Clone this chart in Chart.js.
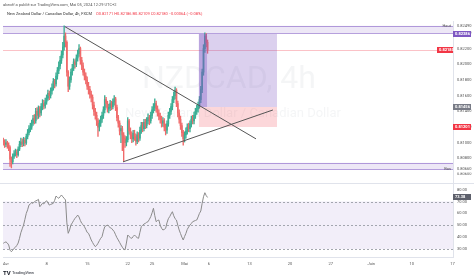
<!DOCTYPE html>
<html>
<head>
<meta charset="utf-8">
<script src="https://cdn.jsdelivr.net/npm/chart.js@4.4.0/dist/chart.umd.min.js"></script>
<style>
    html, body { margin: 0; padding: 0; background: #fff; }
    #wrap { position: relative; width: 474px; height: 280px; overflow: hidden; background: #fff; }
    canvas { position: absolute; left: 0; }
    #price { top: 0; }
    #rsi { top: 183px; }
</style>
</head>
<body>
<div id="wrap">
    <canvas id="price" width="474" height="183"></canvas>
    <canvas id="rsi" width="474" height="97"></canvas>
</div>
<script>
// ============================================================
// NZDCAD 4h - bougies + RSI (recréation TradingView)
// ============================================================
const FONT = "Roboto, 'DejaVu Sans', sans-serif";

// --- données (barre 0 = 1er avril 00:00, 6 barres/jour) ---
const firstBar = -2;
const firstOpen = 0.8103;
const closes = [
    0.8101, 0.8098, 0.8100, 0.8097, 0.8094, 0.8079, 0.8076, 0.8083, 0.8086, 0.8088,
    0.8085, 0.8092, 0.8098, 0.8101, 0.8099, 0.8103, 0.8100, 0.8108, 0.8113, 0.8118,
    0.8120, 0.8125, 0.8131, 0.8128, 0.8140, 0.8135, 0.8143, 0.8138, 0.8146, 0.8150,
    0.8147, 0.8152, 0.8157, 0.8163, 0.8160, 0.8166, 0.8170, 0.8178, 0.8175, 0.8185,
    0.8192, 0.8198, 0.8205, 0.8212, 0.8222, 0.8236, 0.8228, 0.8190, 0.8172, 0.8180,
    0.8190, 0.8195, 0.8203, 0.8200, 0.8208, 0.8214, 0.8220, 0.8205, 0.8198, 0.8190,
    0.8185, 0.8180, 0.8172, 0.8168, 0.8162, 0.8158, 0.8148, 0.8140, 0.8135, 0.8128,
    0.8120, 0.8125, 0.8130, 0.8135, 0.8142, 0.8155, 0.8150, 0.8143, 0.8145, 0.8150,
    0.8146, 0.8152, 0.8156, 0.8145, 0.8132, 0.8125, 0.8115, 0.8118, 0.8110, 0.8106,
    0.8100, 0.8104, 0.8128, 0.8115, 0.8110, 0.8105, 0.8112, 0.8108, 0.8102, 0.8110,
    0.8106, 0.8116, 0.8122, 0.8118, 0.8126, 0.8122, 0.8128, 0.8132, 0.8128, 0.8135,
    0.8142, 0.8145, 0.8150, 0.8143, 0.8138, 0.8134, 0.8130, 0.8125, 0.8128, 0.8120,
    0.8116, 0.8124, 0.8135, 0.8140, 0.8146, 0.8155, 0.8160, 0.8167, 0.8150, 0.8138,
    0.8130, 0.8122, 0.8113, 0.8105, 0.8110, 0.8115, 0.8120, 0.8118, 0.8124, 0.8130,
    0.8128, 0.8135, 0.8140, 0.8143, 0.8148, 0.8155, 0.8168, 0.8190, 0.8220, 0.8236,
    0.8228, 0.8218
];
const highs = [
    0.8106, 0.8104, 0.8104, 0.8102, 0.8100, 0.8096, 0.8082, 0.8086, 0.8090, 0.8092,
    0.8091, 0.8095, 0.8102, 0.8106, 0.8105, 0.8107, 0.8106, 0.8111, 0.8117, 0.8122,
    0.8125, 0.8129, 0.8135, 0.8136, 0.8144, 0.8145, 0.8147, 0.8146, 0.8150, 0.8155,
    0.8154, 0.8157, 0.8161, 0.8167, 0.8166, 0.8170, 0.8175, 0.8182, 0.8181, 0.8189,
    0.8196, 0.8203, 0.8210, 0.8217, 0.8228, 0.8249, 0.8240, 0.8230, 0.8192, 0.8184,
    0.8194, 0.8200, 0.8207, 0.8206, 0.8212, 0.8218, 0.8225, 0.8222, 0.8209, 0.8202,
    0.8194, 0.8189, 0.8184, 0.8177, 0.8172, 0.8166, 0.8161, 0.8152, 0.8144, 0.8139,
    0.8131, 0.8129, 0.8134, 0.8139, 0.8146, 0.8160, 0.8158, 0.8153, 0.8149, 0.8154,
    0.8153, 0.8156, 0.8160, 0.8158, 0.8148, 0.8135, 0.8128, 0.8122, 0.8121, 0.8113,
    0.8109, 0.8108, 0.8132, 0.8130, 0.8119, 0.8114, 0.8116, 0.8116, 0.8111, 0.8114,
    0.8113, 0.8120, 0.8126, 0.8126, 0.8130, 0.8130, 0.8132, 0.8137, 0.8135, 0.8139,
    0.8146, 0.8150, 0.8156, 0.8153, 0.8147, 0.8142, 0.8138, 0.8134, 0.8132, 0.8131,
    0.8124, 0.8128, 0.8139, 0.8144, 0.8150, 0.8159, 0.8165, 0.8171, 0.8169, 0.8153,
    0.8142, 0.8134, 0.8125, 0.8116, 0.8114, 0.8119, 0.8124, 0.8125, 0.8128, 0.8134,
    0.8135, 0.8139, 0.8144, 0.8148, 0.8152, 0.8159, 0.8172, 0.8194, 0.8225, 0.8240,
    0.8239, 0.8231
];
const lows = [
    0.8097, 0.8094, 0.8095, 0.8093, 0.8090, 0.8070, 0.8068, 0.8073, 0.8080, 0.8083,
    0.8081, 0.8083, 0.8090, 0.8095, 0.8095, 0.8096, 0.8096, 0.8098, 0.8105, 0.8110,
    0.8114, 0.8117, 0.8122, 0.8124, 0.8125, 0.8130, 0.8131, 0.8133, 0.8135, 0.8142,
    0.8143, 0.8144, 0.8149, 0.8154, 0.8155, 0.8157, 0.8162, 0.8167, 0.8170, 0.8172,
    0.8181, 0.8188, 0.8194, 0.8201, 0.8208, 0.8218, 0.8222, 0.8185, 0.8165, 0.8168,
    0.8177, 0.8186, 0.8192, 0.8195, 0.8197, 0.8204, 0.8210, 0.8200, 0.8193, 0.8186,
    0.8180, 0.8175, 0.8168, 0.8162, 0.8157, 0.8152, 0.8143, 0.8135, 0.8130, 0.8122,
    0.8108, 0.8115, 0.8121, 0.8126, 0.8131, 0.8138, 0.8145, 0.8139, 0.8138, 0.8141,
    0.8142, 0.8143, 0.8148, 0.8141, 0.8128, 0.8120, 0.8110, 0.8100, 0.8090, 0.8076,
    0.8094, 0.8096, 0.8101, 0.8111, 0.8105, 0.8100, 0.8101, 0.8103, 0.8097, 0.8099,
    0.8101, 0.8103, 0.8112, 0.8114, 0.8115, 0.8118, 0.8119, 0.8124, 0.8123, 0.8125,
    0.8131, 0.8138, 0.8141, 0.8139, 0.8134, 0.8129, 0.8125, 0.8120, 0.8121, 0.8115,
    0.8110, 0.8112, 0.8121, 0.8131, 0.8136, 0.8142, 0.8151, 0.8156, 0.8146, 0.8133,
    0.8125, 0.8117, 0.8108, 0.8097, 0.8101, 0.8106, 0.8111, 0.8114, 0.8114, 0.8120,
    0.8124, 0.8124, 0.8131, 0.8136, 0.8139, 0.8144, 0.8151, 0.8164, 0.8186, 0.8215,
    0.8222, 0.8214
];
const rsiValues = [
    34.8, 35.5, 36, 35, 33.4, 29, 27.7, 29, 30.6, 31.5,
    33, 35, 39, 43.7, 47, 50.2, 55, 60, 63, 67,
    68, 69, 68.5, 69.8, 70.5, 71, 71.8, 65.6, 67, 68.5,
    68, 69.5, 70.7, 69, 67, 67.5, 68, 68.5, 71, 74.6,
    73.5, 72.7, 74, 75.5, 74, 72.7, 71.3, 52, 43.2, 46,
    50.2, 52, 54, 55.8, 57, 58.6, 57, 54, 51.6, 50.5,
    48.8, 46.5, 44, 43.2, 40.5, 37.6, 35.5, 33.5, 32, 33,
    34.8, 37, 39, 40.4, 45, 48.8, 49.5, 50.2, 49, 48,
    47.4, 46, 44.6, 42, 39.5, 37.6, 35.5, 33.4, 31.5, 30,
    29.2, 35, 41.8, 40.5, 39.5, 39, 40.5, 41.8, 40.5, 39.5,
    39, 44, 48.8, 50, 51, 51.6, 52.5, 53, 55, 57.2,
    60.5, 64.3, 58, 53, 54, 54.4, 50, 47.5, 46, 46.5,
    47.4, 52, 55.5, 57.2, 59.5, 61.4, 58, 55.5, 54.4, 50,
    46, 43, 40, 37.6, 40.5, 43.2, 46.5, 48.5, 50.2, 51.5,
    53, 53.5, 54, 54.4, 57, 60, 62, 68.5, 74, 77.4,
    75, 73.4
];
const priceTicks = [0.806, 0.808, 0.810, 0.812, 0.814, 0.816, 0.818, 0.820, 0.822, 0.824];
const rsiTicks = [30, 40, 50, 60, 70, 80];
const timeTicks = [0, 30, 60, 90, 108, 132, 150, 180, 210, 240, 270, 300, 330];
const timeLabels = ["Avr", "8", "15", "22", "25", "Mai", "6", "13", "20", "27", "Juin", "10", "17"];

// --- dessins (en unités barre / prix) ---
const trendDown = [{ x: 43.5, y: 0.8248 }, { x: 184.8, y: 0.8105 }];
const trendUp = [{ x: 86.5, y: 0.80757 }, { x: 197.3, y: 0.81418 }];
const zoneHaut = [0.8249, 0.82395];
const zoneBas = [0.80660, 0.80745];
const pos = { start: 142.6, end: 200.3, now: 148.6, entry: 0.81456, target: 0.82386, stop: 0.81201 };
const lastPrice = 0.8218;
const lastRsi = 73.38;

const UP = "#3aae94", DOWN = "#f06a6a";
const xMin = -2.2, xMax = 330.4;

const bars = closes.map((c, k) => ({
    x: firstBar + k,
    o: k === 0 ? firstOpen : closes[k - 1],
    c: c, h: highs[k], l: lows[k]
}));
const barColors = bars.map(b => b.c >= b.o ? UP : DOWN);

// ============================================================
// helpers
// ============================================================
function axisBox(ctx, y, text, color, x0 = 453, w = 18) {
    ctx.fillStyle = color;
    ctx.fillRect(x0, Math.round(y) - 3, w, 6);
    ctx.fillStyle = "#fff";
    ctx.font = `bold 4px ${FONT}`;
    ctx.textAlign = "left";
    ctx.textBaseline = "middle";
    ctx.fillText(text, x0 + 2, Math.round(y));
}

function axisText(ctx, x, y, text) {
    ctx.fillStyle = "#555";
    ctx.font = `4px ${FONT}`;
    ctx.textBaseline = "middle";
    ctx.fillText(text, x, y);
}

// ============================================================
// plugin du panneau prix
// ============================================================
const pricePlugin = {
    id: "tvPrice",
    beforeDraw(chart) {
        const ctx = chart.ctx;
        ctx.save();
        ctx.textBaseline = "middle";
        ctx.textAlign = "left";
        ctx.font = `4px ${FONT}`;
        ctx.fillStyle = "#555";
        ctx.fillText("abeoff a publié sur TradingView.com, Mai 05, 2024 12:29 UTC+2", 3, 4.5);
        const head = "New Zealand Dollar / Canadian Dollar, 4h, FXCM";
        ctx.fillStyle = "#333";
        ctx.fillText(head, 7, 14);
        const w = ctx.measureText(head).width;
        ctx.fillStyle = "#f23645";
        ctx.fillText("O0.82171 H0.82186 B0.82109 C0.82180 −0.00064 (−0.08%)", 7 + w + 4, 14);
        ctx.restore();
    },
    beforeDatasetsDraw(chart) {
        const { ctx, chartArea: a, scales: { y } } = chart;
        ctx.save();
        // filigrane
        ctx.textAlign = "center";
        ctx.textBaseline = "middle";
        ctx.fillStyle = "rgba(120,123,134,0.08)";
        ctx.font = `32px ${FONT}`;
        ctx.fillText("NZDCAD, 4h", 229, 80);
        ctx.font = `13px ${FONT}`;
        ctx.fillText("New Zealand Dollar / Canadian Dollar", 233, 114);

        // zones Haut / Bas
        [zoneHaut, zoneBas].forEach(z => {
            const y1 = y.getPixelForValue(z[0]), y2 = y.getPixelForValue(z[1]);
            ctx.fillStyle = "rgba(126,87,194,0.14)";
            ctx.fillRect(a.left, Math.min(y1, y2), a.right - a.left, Math.abs(y2 - y1));
            ctx.strokeStyle = "rgba(126,87,194,0.55)";
            ctx.lineWidth = 1;
            [y1, y2].forEach(yy => {
                ctx.beginPath();
                ctx.moveTo(a.left, Math.round(yy) + 0.5);
                ctx.lineTo(a.right, Math.round(yy) + 0.5);
                ctx.stroke();
            });
        });

        // ligne du dernier prix
        const yp = Math.round(y.getPixelForValue(lastPrice)) + 0.5;
        ctx.strokeStyle = "rgba(242,54,69,0.3)";
        ctx.beginPath();
        ctx.moveTo(a.left, yp);
        ctx.lineTo(a.right, yp);
        ctx.stroke();
        ctx.restore();
    },
    afterDatasetDraw(chart, args) {
        if (args.index !== 1) return;
        const { ctx, scales: { x, y } } = chart;
        const x1 = x.getPixelForValue(pos.start), x2 = x.getPixelForValue(pos.end);
        const xn = x.getPixelForValue(pos.now);
        const yt = y.getPixelForValue(pos.target), ye = y.getPixelForValue(pos.entry);
        const ys = y.getPixelForValue(pos.stop);
        ctx.save();
        ctx.fillStyle = "rgba(126,87,194,0.28)";
        ctx.fillRect(x1, yt, x2 - x1, ye - yt);
        ctx.fillStyle = "rgba(126,87,194,0.35)";
        ctx.fillRect(x1, yt, xn - x1, ye - yt);
        ctx.fillStyle = "rgba(242,54,69,0.2)";
        ctx.fillRect(x1, ye, x2 - x1, ys - ye);
        ctx.restore();
    },
    afterDraw(chart) {
        const { ctx, chartArea: a, scales: { y } } = chart;
        ctx.save();
        ctx.textAlign = "left";
        priceTicks.forEach(v => axisText(ctx, a.right + 4, y.getPixelForValue(v), v.toFixed(5)));

        // Haut
        const yh = y.getPixelForValue(zoneHaut[0]);
        ctx.fillStyle = "#fff";
        ctx.fillRect(a.right + 1, yh - 3, 20, 6);
        ctx.textAlign = "right";
        axisText(ctx, a.right - 2, yh, "Haut");
        ctx.textAlign = "left";
        axisText(ctx, a.right + 4, yh, "0.82490");
        // Bas
        const yb = y.getPixelForValue(zoneBas[0]);
        ctx.fillStyle = "#fff";
        ctx.fillRect(a.right + 1, yb - 3, 20, 6);
        ctx.textAlign = "right";
        axisText(ctx, a.right - 2, yb, "Bas");
        ctx.textAlign = "left";
        axisText(ctx, a.right + 4, yb, "0.80660");

        axisBox(ctx, y.getPixelForValue(pos.target), "0.82386", "#7e57c2");
        axisBox(ctx, y.getPixelForValue(lastPrice), "0.82180", "#f23645", 437, 16);
        axisBox(ctx, y.getPixelForValue(pos.entry), "0.81456", "#787b86");
        axisBox(ctx, y.getPixelForValue(pos.stop), "0.81201", "#f23645");
        ctx.restore();
    }
};

// ============================================================
// plugin du panneau RSI
// ============================================================
const rsiPlugin = {
    id: "tvRsi",
    beforeDatasetsDraw(chart) {
        const { ctx, chartArea: a, scales: { y } } = chart;
        ctx.save();
        const y70 = y.getPixelForValue(70), y30 = y.getPixelForValue(30);
        ctx.fillStyle = "rgba(126,87,194,0.1)";
        ctx.fillRect(a.left, y70, a.right - a.left, y30 - y70);
        ctx.strokeStyle = "#a3a6af";
        ctx.lineWidth = 1;
        ctx.setLineDash([2, 2]);
        [70, 50, 30].forEach(v => {
            const yy = Math.round(y.getPixelForValue(v)) + 0.5;
            ctx.beginPath();
            ctx.moveTo(a.left, yy);
            ctx.lineTo(a.right, yy);
            ctx.stroke();
        });
        ctx.restore();
    },
    afterDraw(chart) {
        const { ctx, chartArea: a, scales: { x, y } } = chart;
        ctx.save();
        ctx.strokeStyle = "#e0e3eb";
        ctx.beginPath();
        ctx.moveTo(0, 0.5);
        ctx.lineTo(474, 0.5);
        ctx.stroke();

        ctx.textAlign = "left";
        rsiTicks.forEach(v => axisText(ctx, a.right + 4, y.getPixelForValue(v), v.toFixed(2)));
        ctx.textAlign = "center";
        timeTicks.forEach((v, i) => axisText(ctx, x.getPixelForValue(v), a.bottom + 6.5, timeLabels[i]));

        axisBox(ctx, y.getPixelForValue(lastRsi), lastRsi.toFixed(2), "#5d606b");
        // logo
        ctx.fillStyle = "#131722";
        ctx.font = `bold 6px ${FONT}`;
        ctx.textBaseline = "middle";
        ctx.textAlign = "left";
        ctx.fillText("TV", 3, 90);
        ctx.font = `4px ${FONT}`;
        ctx.fillText("TradingView", 12, 90);
        ctx.restore();
    }
};

// ============================================================
// graphique prix
// ============================================================
new Chart(document.getElementById("price"), {
    type: "bar",
    data: {
        datasets: [
            {
                type: "bar",
                data: bars.map(b => ({ x: b.x, y: [b.l, b.h] })),
                backgroundColor: barColors,
                barThickness: 0.7,
                grouped: false,
                order: 3
            },
            {
                type: "bar",
                data: bars.map(b => ({ x: b.x, y: [b.o, b.c] })),
                backgroundColor: barColors,
                barThickness: 1,
                minBarLength: 1,
                grouped: false,
                order: 2
            },
            {
                type: "line",
                data: trendDown,
                borderColor: "#555",
                borderWidth: 1,
                pointRadius: 0,
                order: 1
            },
            {
                type: "line",
                data: trendUp,
                borderColor: "#555",
                borderWidth: 1,
                pointRadius: 0,
                order: 1
            }
        ]
    },
    options: {
        responsive: false,
        animation: false,
        events: [],
        layout: { padding: { left: 3, top: 21, right: 0, bottom: 0 } },
        plugins: { legend: { display: false }, tooltip: { enabled: false } },
        scales: {
            x: { type: "linear", min: xMin, max: xMax, display: false, offset: false },
            y: {
                position: "right",
                min: 0.804877,
                max: 0.825516,
                afterFit: s => { s.width = 21; },
                ticks: { display: false },
                grid: { display: false },
                border: { display: true, color: "#e0e3eb" }
            }
        }
    },
    plugins: [pricePlugin]
});

// ============================================================
// graphique RSI
// ============================================================
new Chart(document.getElementById("rsi"), {
    type: "line",
    data: {
        datasets: [{
            data: rsiValues.map((v, k) => ({ x: firstBar + k, y: v })),
            borderColor: "#8a8a8a",
            borderWidth: 1,
            pointRadius: 0,
            tension: 0
        }]
    },
    options: {
        responsive: false,
        animation: false,
        events: [],
        layout: { padding: { left: 3, top: 1, right: 0, bottom: 10 } },
        plugins: { legend: { display: false }, tooltip: { enabled: false } },
        scales: {
            x: {
                type: "linear",
                min: xMin,
                max: xMax,
                afterFit: s => { s.height = 13; },
                ticks: { display: false },
                grid: { display: false },
                border: { display: true, color: "#e0e3eb" }
            },
            y: {
                position: "right",
                min: 23.26,
                max: 84.74,
                afterFit: s => { s.width = 21; },
                ticks: { display: false },
                grid: { display: false },
                border: { display: true, color: "#e0e3eb" }
            }
        }
    },
    plugins: [rsiPlugin]
});
</script>
</body>
</html>
